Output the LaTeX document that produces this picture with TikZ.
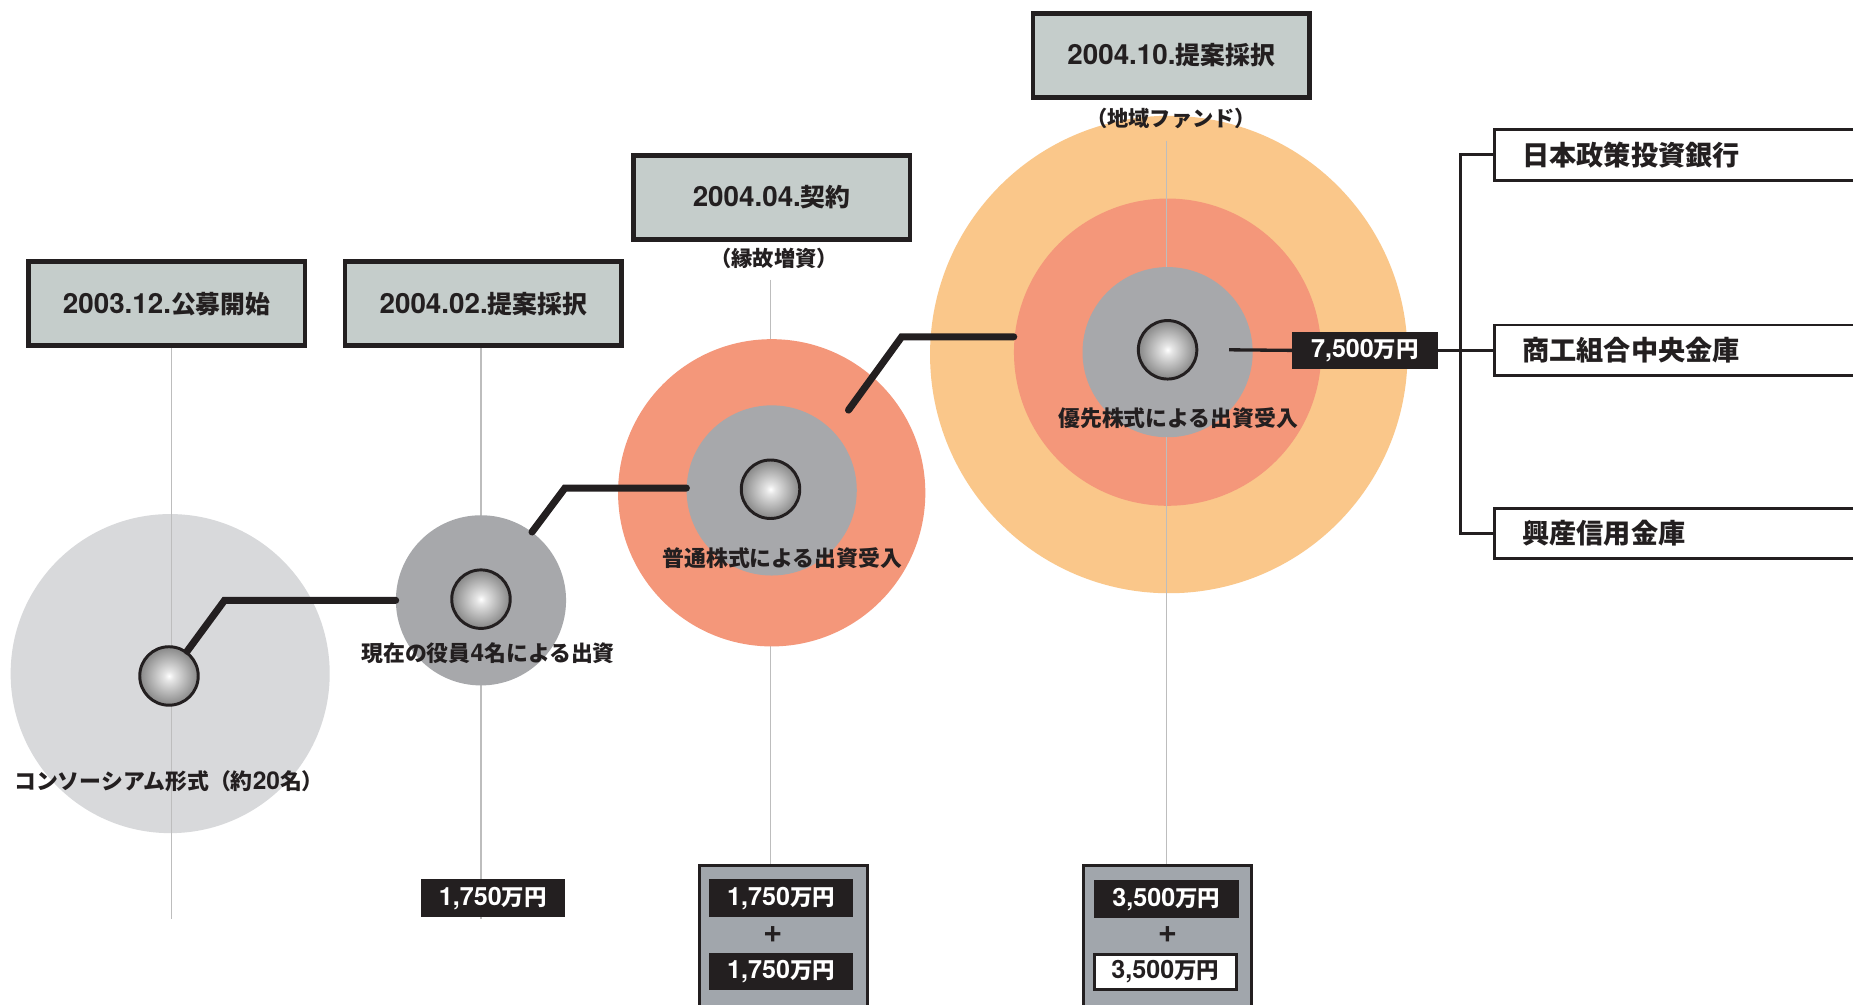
\documentclass[tikz,border=0pt]{standalone}
\usepackage{fontspec}
\setmainfont{Noto Sans CJK JP}
\newfontfamily\latfont{TeX Gyre Heros}[Scale=1.12]
\newcommand\fig[1]{{\latfont\bfseries #1}}
\usetikzlibrary{calc}

\definecolor{ink}{HTML}{231F20}
\definecolor{boxgray}{HTML}{C5CDCB}
\definecolor{pale}{HTML}{D8D9DB}
\definecolor{core}{HTML}{A7A8AB}
\definecolor{salmon}{HTML}{F4977A}
\definecolor{apricot}{HTML}{FAC78A}
\definecolor{panelgray}{HTML}{A1A6AC}
\definecolor{guidegray}{HTML}{BDBDBD}

% radial gradient for the small spheres: bright centre, dark rim
\pgfdeclareradialshading{orb}{\pgfpoint{0bp}{0bp}}{%
  color(0bp)=(white); color(4bp)=(white!90!black);
  color(22bp)=(black!42); color(38bp)=(black!68);
  color(48bp)=(black!88); color(100bp)=(black!88)}

\tikzset{
  datebox/.style={draw=ink, line width=4pt, fill=boxgray, text=ink,
    minimum width=234pt, minimum height=71pt, inner sep=0pt,
    font=\bfseries\fontsize{21}{21}\selectfont},
  note/.style={text=ink, inner sep=0pt, font=\bfseries\fontsize{18}{18}\selectfont},
  caption/.style={text=ink, inner sep=0pt, font=\bfseries\fontsize{18.5}{18.5}\selectfont},
  disk/.style={circle, inner sep=0pt, minimum size=#1},
  ball/.style={circle, inner sep=0pt, minimum size=49.5pt, draw=ink,
    line width=2.5pt, shade, shading=orb},
  guide/.style={draw=guidegray, line width=1.2pt},
  link/.style={draw=ink, line width=6pt, line cap=round, line join=miter},
  thinlink/.style={draw=ink, line width=2.8pt},
  money/.style={fill=ink, text=white, minimum width=122pt, minimum height=32pt,
    inner sep=0pt, font=\bfseries\fontsize{19}{19}\selectfont},
  moneylight/.style={fill=white, draw=ink, line width=2.5pt, text=ink,
    minimum width=120pt, minimum height=30pt, inner sep=0pt,
    font=\bfseries\fontsize{19}{19}\selectfont},
  panel/.style={fill=panelgray, draw=ink, line width=2.5pt,
    minimum width=142pt, minimum height=160pt, inner sep=0pt},
  plus/.style={text=ink, inner sep=0pt, font=\bfseries\fontsize{25}{25}\selectfont},
  bank/.style={fill=white, draw=ink, line width=2.5pt, minimum height=43pt,
    text width=330pt, inner xsep=24pt, inner ysep=0pt, align=left, text=ink,
    font=\bfseries\fontsize{23}{23}\selectfont},
}

\begin{document}
\begin{tikzpicture}[x=1pt,y=-1pt]
\useasboundingbox (0,0) rectangle (1568,850);
\clip (0,0) rectangle (1568,850);
\fill[white] (0,0) rectangle (1568,850);

% ---- milestone boxes
\node[datebox] (d1) at (141,257) {\fig{2003.12.}公募開始};
\node[datebox] (d2) at (409,257) {\fig{2004.02.}提案採択};
\node[datebox] (d3) at (653,167) {\fig{2004.04.}契約};
\node[datebox] (d4) at (991,47)  {\fig{2004.10.}提案採択};
\node[note] (n3) at (655,219) {（縁故増資）};

% ---- amount panels at the foot of the timeline
\node[money] (m2) at (417,760) {\fig{1,750}万円};

\node[panel, anchor=north] (p3) at (663,731) {};
\node[panel, anchor=north] (p4) at (988,731) {};

% free lower ends of the first two guides
\coordinate (e1) at (145,778);
\coordinate (e2) at (407,778);

% ---- vertical guides (behind the discs)
\draw[guide] (d2.south -| e2) -- (m2.north -| e2);
\draw[guide] (m2.south -| e2) -- (e2);
\draw[guide] (n3.south -| 652,0) ++(0,9) -- (p3.north -| 652,0);

% ---- discs
\node[disk=270pt, fill=pale] (ring1) at (144,570) {};
\node[disk=144pt, fill=core] (ring2) at (407,508) {};
\node[disk=260pt, fill=salmon] (mid3) at (653,417) {};
\node[disk=144pt, fill=core] (core3) at (653,415) {};
\node[disk=404pt, fill=apricot] (outer4) at (989,300) {};
\node[disk=260pt, fill=salmon] (mid4) at (988,298) {};

\node[note] (n4) at (991,100) {（地域ファンド）};

% guides that run over the discs
\draw[guide] (d1.south -| e1) -- (e1);
\draw[guide] (n4.south -| 987,0) ++(0,10) -- (p4.north -| 987,0);

\node[disk=144pt, fill=core] (core4) at (988,298) {};
\draw[guide] (core4.south -| 987,0) -- (p4.north -| 987,0);

% ---- connectors between the stages
\coordinate (k1) at (190,508);
\coordinate (k2) at (478,413);
\coordinate (t3) at (718,347);
\coordinate (k3) at (763,285);
\coordinate (t4) at (1040,296);
\coordinate (hub) at (1236,296);

\node[ball] (ball1) at (143,572) {};
\node[ball] (ball2) at (407,507) {};
\node[ball] (ball3) at (652,414) {};
\node[ball] (ball4) at (988,296) {};

\draw[link] (ball1) -- (k1) -- (ring2.west);
\draw[link] (ring2) -- (k2) -- (k2 -| core3.west);
\draw[link] (t3) -- (k3) -- (k3 -| mid4.west);

% ---- captions inside the discs
\node[caption] (cap1) at (143,661) {コンソーシアム形式（約\fig{20}名）};
\node[caption] (cap2) at (413,553) {現在の役員\fig{4}名による出資};
\node[caption] (cap3) at (662,472) {普通株式による出資受入};
\node[caption] (cap4) at (997,354) {優先株式による出資受入};

% ---- amounts in the panels
\node[money] (m3a) at (661,760) {\fig{1,750}万円};
\node[plus]  (s3)  at (654,791) {\fig{+}};
\node[money] (m3b) at (661,822) {\fig{1,750}万円};

\node[money]      (m4a) at (987,761) {\fig{3,500}万円};
\node[plus]       (s4)  at (988,791) {\fig{+}};
\node[moneylight] (m4b) at (986,822.5) {\fig{3,500}万円};

% ---- fund and its investors
\node[money, minimum width=123pt, minimum height=31pt] (v) at (1155,296.5) {\fig{7,500}万円};

\node[bank, anchor=west] (bank1) at (1263,131) {日本政策投資銀行};
\node[bank, anchor=west] (bank2) at (1263,296.5) {商工組合中央金庫};
\node[bank, anchor=west] (bank3) at (1263,451.5) {興産信用金庫};

\draw[thinlink] (t4) -- (v.west);
\draw[thinlink] (v.east) -- (bank2.west);
\draw[thinlink] (bank1.west) -| (hub) |- (bank3.west);
\end{tikzpicture}
\end{document}
